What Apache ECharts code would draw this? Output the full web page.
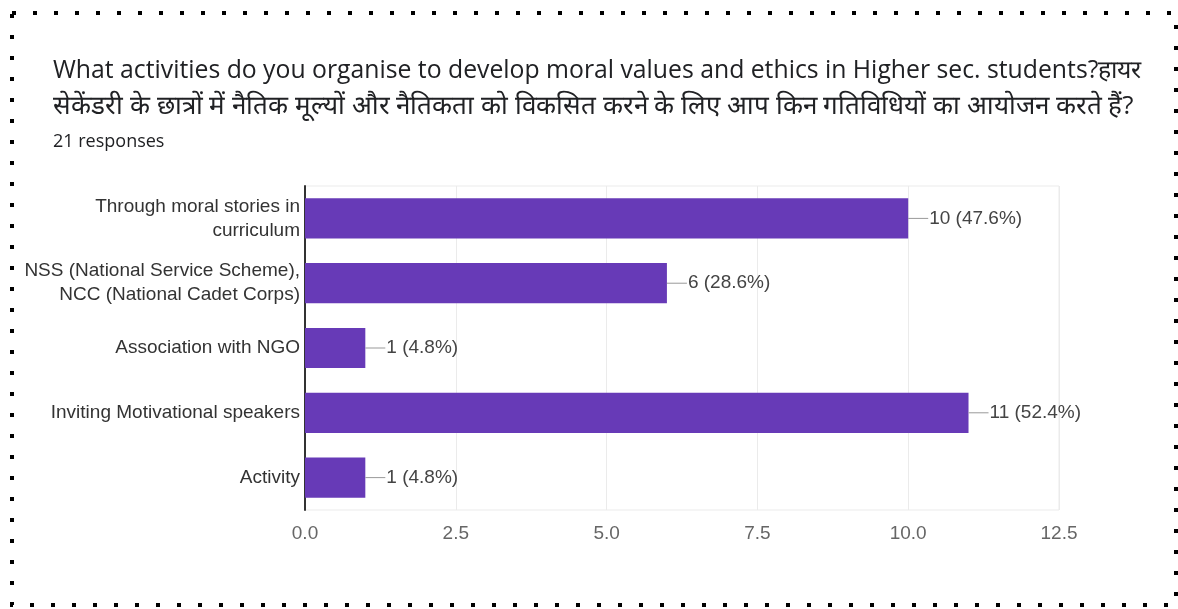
<!DOCTYPE html>
<html>
<head>
<meta charset="utf-8">
<script src="https://cdn.jsdelivr.net/npm/echarts@6/dist/echarts.min.js"></script>
<style>
  html, body { margin: 0; padding: 0; background: #fff; }
  #chart { width: 1178px; height: 609px; }
</style>
</head>
<body>
<div id="chart"></div>
<script>
// Survey question and response count
const titleLines = [
  'What activities do you organise to develop moral values and ethics in Higher sec. students?हायर',
  'सेकेंडरी के छात्रों में नैतिक मूल्यों और नैतिकता को विकसित करने के लिए आप किन गतिविधियों का आयोजन करते हैं?'
];
const totalResponses = 21;

// Answer options (top to bottom) and their counts
const categories = [
  'Through moral stories in\ncurriculum',
  'NSS (National Service Scheme),\nNCC (National Cadet Corps)',
  'Association with NGO',
  'Inviting Motivational speakers',
  'Activity'
];
const counts = [10, 6, 1, 11, 1];

// Value axis ticks
const axisMin = 0;
const axisMax = 12.5;
const axisStep = 2.5;

const TITLE_FAMILY = '"Open Sans", Roboto, sans-serif';
const BODY_FAMILY = 'Arial, "Liberation Sans", sans-serif';

// Pick a font size so a heading line spans the given width
const measureCtx = document.createElement('canvas').getContext('2d');
function fitSize(text, family, width) {
  measureCtx.font = '100px ' + family;
  return 100 * width / measureCtx.measureText(text).width;
}
const size1 = Math.min(25, fitSize(titleLines[0], TITLE_FAMILY, 1090));
const size2 = Math.min(26, fitSize(titleLines[1], TITLE_FAMILY, 1085));

const chart = echarts.init(document.getElementById('chart'), null, { renderer: 'canvas' });

chart.setOption({
  backgroundColor: '#ffffff',
  animation: false,
  graphic: [
    {
      type: 'text',
      left: 53,
      top: 75 - size1 * 0.68,
      style: {
        text: titleLines[0],
        font: size1.toFixed(2) + 'px ' + TITLE_FAMILY,
        fill: '#202124'
      }
    },
    {
      type: 'text',
      left: 53,
      top: 111 - size2 * 0.68,
      style: {
        text: titleLines[1],
        font: size2.toFixed(2) + 'px ' + TITLE_FAMILY,
        fill: '#202124'
      }
    },
    {
      type: 'text',
      left: 53,
      top: 133,
      style: {
        text: totalResponses + ' responses',
        font: '18px ' + TITLE_FAMILY,
        fill: '#202124'
      }
    },
    // dotted frame around the card
    {
      type: 'rect',
      shape: { x: 12, y: 13, width: 1164, height: 592 },
      style: {
        fill: 'none',
        stroke: '#000',
        lineWidth: 4,
        lineDash: [4, 17]
      },
      silent: true
    }
  ],
  grid: {
    left: 305,
    right: 119,
    top: 186,
    bottom: 99,
    show: true,
    borderColor: '#ebebeb',
    borderWidth: 1
  },
  xAxis: {
    type: 'value',
    min: axisMin,
    max: axisMax,
    interval: axisStep,
    axisLine: { show: false },
    axisTick: { show: false },
    splitLine: { lineStyle: { color: '#ebebeb', width: 1 } },
    axisLabel: {
      margin: 14,
      color: '#666',
      fontSize: 19,
      fontFamily: BODY_FAMILY,
      formatter: v => v.toFixed(1)
    }
  },
  yAxis: {
    type: 'category',
    inverse: true,
    data: categories,
    axisLine: { lineStyle: { color: '#333', width: 2 } },
    axisTick: { show: false },
    axisLabel: {
      margin: 5,
      color: '#333',
      fontSize: 19,
      lineHeight: 24,
      align: 'right',
      fontFamily: BODY_FAMILY
    }
  },
  series: [{
    type: 'bar',
    data: counts,
    barWidth: '62%',
    itemStyle: { color: '#673ab7' },
    z: 1,
    label: {
      show: true,
      position: 'right',
      distance: 0,
      formatter: p => '{l|}{t|' + p.value + ' (' + (p.value / totalResponses * 100).toFixed(1) + '%)}',
      rich: {
        l: { width: 20, height: 1, backgroundColor: '#999' },
        t: {
          color: '#444',
          fontSize: 19,
          fontFamily: BODY_FAMILY,
          padding: [0, 0, 0, 1]
        }
      }
    }
  }]
});
</script>
</body>
</html>
